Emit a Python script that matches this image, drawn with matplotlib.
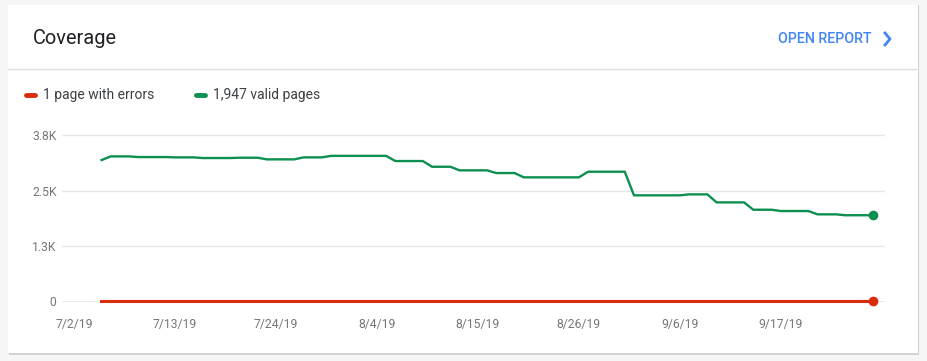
import datetime as dt
import matplotlib
matplotlib.use("Agg")
import matplotlib.pyplot as plt
import matplotlib.dates as mdates
from matplotlib.patches import Rectangle
from matplotlib.lines import Line2D

plt.rcParams['font.family'] = ['Roboto', 'DejaVu Sans']

# datos: un valor por día, del 5/7/19 al 27/9/19
start = dt.date(2019, 7, 5)
valid_steps = [
    (1, 3192), (3, 3275), (4, 3260), (3, 3253), (4, 3238), (3, 3245),
    (4, 3208), (3, 3253), (7, 3287), (4, 3170), (3, 3041), (4, 2960),
    (3, 2899), (7, 2802), (5, 2929), (6, 2396), (3, 2418), (4, 2237),
    (3, 2071), (4, 2042), (3, 1967), (4, 1947),
]
valid = [v for n, v in valid_steps for _ in range(n)]
dates = [start + dt.timedelta(days=i) for i in range(len(valid))]
errors = [0] * (len(valid) - 1) + [1]

tick_dates = [dt.date(2019, 7, 2) + dt.timedelta(days=11 * i) for i in range(8)]
tick_labels = ["7/2/19", "7/13/19", "7/24/19", "8/4/19", "8/15/19", "8/26/19", "9/6/19", "9/17/19"]
y_ticks = [0, 1250, 2500, 3750]
y_labels = ["0", "1.3K", "2.5K", "3.8K"]

RED = '#d82c0d'
GREEN = '#0d904f'
BLUE = '#4285f4'

W, H = 927, 361
fig = plt.figure(figsize=(W / 100, H / 100), dpi=100)
fig.patch.set_facecolor('#f5f5f5')


def fx(x):
    return x / W


def fy(y):
    return 1 - y / H


# tarjeta con sombra
fig.patches.append(Rectangle((fx(9), fy(355)), fx(910), 350 / H, transform=fig.transFigure,
                             facecolor='#d2d2d2', edgecolor='none', zorder=0))
fig.patches.append(Rectangle((fx(8), fy(353)), fx(910), 348 / H, transform=fig.transFigure,
                             facecolor='white', edgecolor='none', zorder=1))
fig.lines.append(Line2D([fx(8), fx(918)], [fy(69), fy(69)], transform=fig.transFigure,
                        color='#e0e0e0', lw=1, zorder=2))

# cabecera
fig.text(fx(33), fy(39), "Coverage", fontsize=14.4, color='#202124', va='center', ha='left')
fig.text(fx(872), fy(39), "OPEN REPORT", fontsize=10.3, color=BLUE, va='center', ha='right',
         fontweight='medium')
fig.lines.append(Line2D([fx(885), fx(890), fx(885)], [fy(33), fy(39), fy(45)],
                        transform=fig.transFigure, color=BLUE, lw=2, zorder=3))

# leyenda
for x0, col, label in [(25, RED, "1 page with errors"), (195, GREEN, "1,947 valid pages")]:
    fig.lines.append(Line2D([fx(x0 + 1), fx(x0 + 10)], [fy(95), fy(95)], transform=fig.transFigure,
                            color=col, lw=3.5, solid_capstyle='round', zorder=3))
    fig.text(fx(x0 + 18), fy(95), label, fontsize=10, color='#3c4043', va='center', ha='left')

# gráfico
ax = fig.add_axes([fx(62), 1 - 301.5 / H, fx(885) - fx(62), (301.5 - 128.7) / H])
ax.set_facecolor('none')
ax.set_zorder(5)
ax.plot(dates, valid, color=GREEN, lw=1.7, zorder=3)
ax.plot(dates, errors, color=RED, lw=2.2, zorder=4, clip_on=False)
ax.plot(dates[-1], valid[-1], 'o', color=GREEN, ms=6, zorder=5)
ax.plot(dates[-1], errors[-1], 'o', color=RED, ms=6, zorder=5, clip_on=False)

x0 = mdates.date2num(dt.date(2019, 7, 2))
ax.set_xlim(x0 - 1.31, x0 + 88.35)
ax.set_ylim(0, 3900)
ax.set_xticks(tick_dates)
ax.set_xticklabels(tick_labels)
ax.set_yticks(y_ticks)
ax.set_yticklabels(y_labels)
ax.tick_params(length=0, labelsize=8.7, labelcolor='#757575')
ax.tick_params(axis='x', pad=12)
ax.tick_params(axis='y', pad=4)
for s in ax.spines.values():
    s.set_visible(False)
for v in y_ticks[1:]:
    ax.axhline(v, color='#e8e8e8', lw=1, zorder=1)
ax.axhline(0, color='#9e9e9e', lw=1, zorder=1)

fig.savefig("out.png", dpi=100, facecolor=fig.get_facecolor())
